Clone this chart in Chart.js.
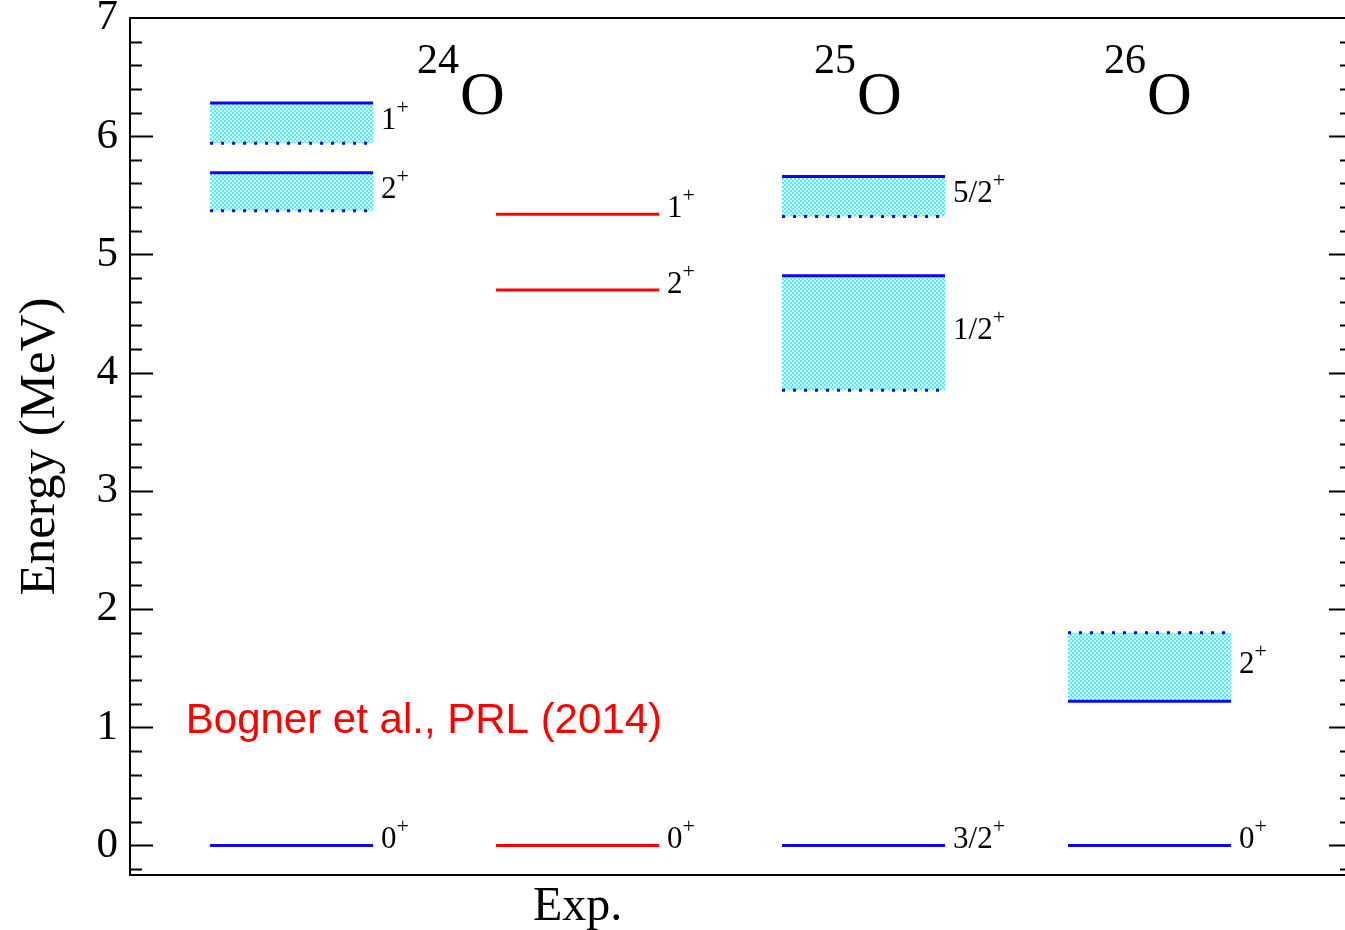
<!DOCTYPE html>
<html>
<head>
<meta charset="utf-8">
<script src="https://cdn.jsdelivr.net/npm/chart.js@4.4.1/dist/chart.umd.min.js"></script>
<style>
    html, body { margin: 0; padding: 0; overflow: hidden; background: #fff; }
    #marco { width: 1365px; height: 930px; position: relative; }
</style>
</head>
<body>
<div id="marco"><canvas id="graficaNiveles"></canvas></div>
<script>
// columnas: 0 = 24O, 1 = Exp., 2 = 25O, 3 = 26O
const columnas = ["24O", "Exp.", "25O", "26O"];

// niveles teóricos con anchura (banda entre línea continua y punteada)
const bandaColumna  = [0, 0, 2, 2, 3];
const bandaContinua = [6.28, 5.69, 5.66, 4.82, 1.22];
const bandaPunteada = [5.94, 5.37, 5.32, 3.85, 1.80];
const bandaEspin    = ["1", "2", "5/2", "1/2", "2"];

// estados fundamentales teóricos
const baseColumna = [0, 2, 3];
const baseEnergia = [0, 0, 0];
const baseEspin   = ["0", "3/2", "0"];

// niveles experimentales
const expColumna = [1, 1, 1];
const expEnergia = [0, 4.70, 5.34];
const expEspin   = ["0", "2", "1"];

const ticksY = [0, 1, 2, 3, 4, 5, 6, 7];

const AZUL = "#0a0af0";
const ROJO = "#ff0000";
const SERIF = "'Liberation Serif', 'Times New Roman', serif";

function tramo(col, e) {
    return [{ x: col + 0.28, y: e }, { x: col + 0.85, y: e }];
}

function patronPuntos() {
    const c = document.createElement("canvas");
    c.width = 4; c.height = 4;
    const g = c.getContext("2d");
    g.fillStyle = "#dafbfc";
    g.fillRect(0, 0, 4, 4);
    g.fillStyle = "#55ecf4";
    g.fillRect(0, 0, 2, 2);
    g.fillRect(2, 2, 2, 2);
    return g.createPattern(c, "repeat");
}

const relleno = patronPuntos();
const datasets = [];

bandaColumna.forEach((col, i) => {
    datasets.push({
        data: tramo(col, bandaPunteada[i]),
        borderColor: AZUL,
        borderWidth: 3,
        borderDash: [3, 8],
        borderCapStyle: "butt",
        fill: false
    });
    datasets.push({
        data: tramo(col, bandaContinua[i]),
        borderColor: AZUL,
        borderWidth: 3,
        fill: "-1",
        backgroundColor: relleno
    });
});

baseColumna.forEach((col, i) => {
    datasets.push({ data: tramo(col, baseEnergia[i]), borderColor: AZUL, borderWidth: 3, fill: false });
});

expColumna.forEach((col, i) => {
    datasets.push({ data: tramo(col, expEnergia[i]), borderColor: ROJO, borderWidth: 3, fill: false });
});

// etiqueta tipo "5/2+" a la derecha del nivel
function etiquetaEspin(ctx, texto, x, y) {
    ctx.font = "31px " + SERIF;
    ctx.textAlign = "left";
    ctx.textBaseline = "alphabetic";
    ctx.fillStyle = "#000";
    ctx.fillText(texto, x, y + 10);
    const w = ctx.measureText(texto).width;
    ctx.font = "22px " + SERIF;
    ctx.fillText("+", x + w, y - 5);
}

function nucleo(ctx, masa, x, yBase) {
    ctx.fillStyle = "#000";
    ctx.textBaseline = "alphabetic";
    ctx.textAlign = "right";
    ctx.font = "42px " + SERIF;
    ctx.fillText(masa, x - 1, yBase - 41);
    ctx.textAlign = "left";
    ctx.font = "62px " + SERIF;
    ctx.fillText("O", x, yBase);
}

const decoracion = {
    id: "decoracion",
    afterDraw(chart) {
        const ctx = chart.ctx;
        const a = chart.chartArea;
        const sx = chart.scales.x;
        const sy = chart.scales.y;
        ctx.save();

        // marco y marcas hacia dentro
        ctx.strokeStyle = "#000";
        ctx.lineWidth = 2;
        ctx.beginPath();
        ctx.moveTo(a.left, a.top);
        ctx.lineTo(a.right, a.top);
        ctx.lineTo(a.right, a.bottom);
        ctx.lineTo(a.left, a.bottom);
        ctx.closePath();
        ctx.stroke();

        for (let k = -1; k < 35; k++) {
            const v = k / 5;
            const py = Math.round(sy.getPixelForValue(v)) + 0.5;
            const largo = (k % 5 === 0) ? 23 : 12;
            ctx.beginPath();
            ctx.moveTo(a.left, py);
            ctx.lineTo(a.left + largo, py);
            ctx.moveTo(a.right, py);
            ctx.lineTo(a.right - largo, py);
            ctx.stroke();
        }

        // espines
        const fin = (col) => sx.getPixelForValue(col + 0.85) + 8;
        bandaColumna.forEach((col, i) => {
            const medio = (bandaContinua[i] + bandaPunteada[i]) / 2;
            etiquetaEspin(ctx, bandaEspin[i], fin(col), sy.getPixelForValue(medio) - 4);
        });
        baseColumna.forEach((col, i) => {
            etiquetaEspin(ctx, baseEspin[i], fin(col), sy.getPixelForValue(baseEnergia[i]) - 7);
        });
        expColumna.forEach((col, i) => {
            etiquetaEspin(ctx, expEspin[i], fin(col), sy.getPixelForValue(expEnergia[i]) - 7);
        });

        // nombres de los núcleos
        const yO = sy.getPixelForValue(6.19);
        nucleo(ctx, "24", sx.getPixelForValue(1.154), yO);
        nucleo(ctx, "25", sx.getPixelForValue(2.542), yO);
        nucleo(ctx, "26", sx.getPixelForValue(3.556), yO);

        // columna experimental
        ctx.font = "48px " + SERIF;
        ctx.textAlign = "center";
        ctx.textBaseline = "alphabetic";
        ctx.fillStyle = "#000";
        ctx.fillText(columnas[1], sx.getPixelForValue(1.565), a.bottom + 45);

        // referencia
        ctx.font = "42px 'Liberation Sans', Arial, sans-serif";
        ctx.textAlign = "left";
        ctx.fillStyle = ROJO;
        ctx.fillText("Bogner et al., PRL (2014)", sx.getPixelForValue(0.195), sy.getPixelForValue(0.95));

        ctx.restore();
    }
};

new Chart(document.getElementById("graficaNiveles"), {
    type: "line",
    data: { datasets },
    options: {
        responsive: true,
        maintainAspectRatio: false,
        animation: false,
        layout: { padding: { left: 0, top: 18, right: 13, bottom: 55 } },
        elements: { point: { radius: 0 }, line: { tension: 0 } },
        plugins: {
            legend: { display: false },
            tooltip: { enabled: false }
        },
        scales: {
            x: {
                type: "linear",
                min: 0,
                max: 4.273,
                display: false
            },
            y: {
                type: "linear",
                min: -0.25,
                max: 7,
                afterFit: (s) => { s.width = 130; s.paddingTop = 0; s.paddingBottom = 0; },
                afterBuildTicks: (s) => { s.ticks = ticksY.map(v => ({ value: v })); },
                grid: { display: false, drawTicks: false },
                border: { display: false },
                ticks: {
                    padding: 12,
                    color: "#000",
                    font: { family: SERIF, size: 43 }
                },
                title: {
                    display: true,
                    text: "Energy (MeV)",
                    color: "#000",
                    font: { family: SERIF, size: 51 },
                    padding: { top: 10, bottom: 0 }
                }
            }
        }
    },
    plugins: [decoracion]
});
</script>
</body>
</html>
